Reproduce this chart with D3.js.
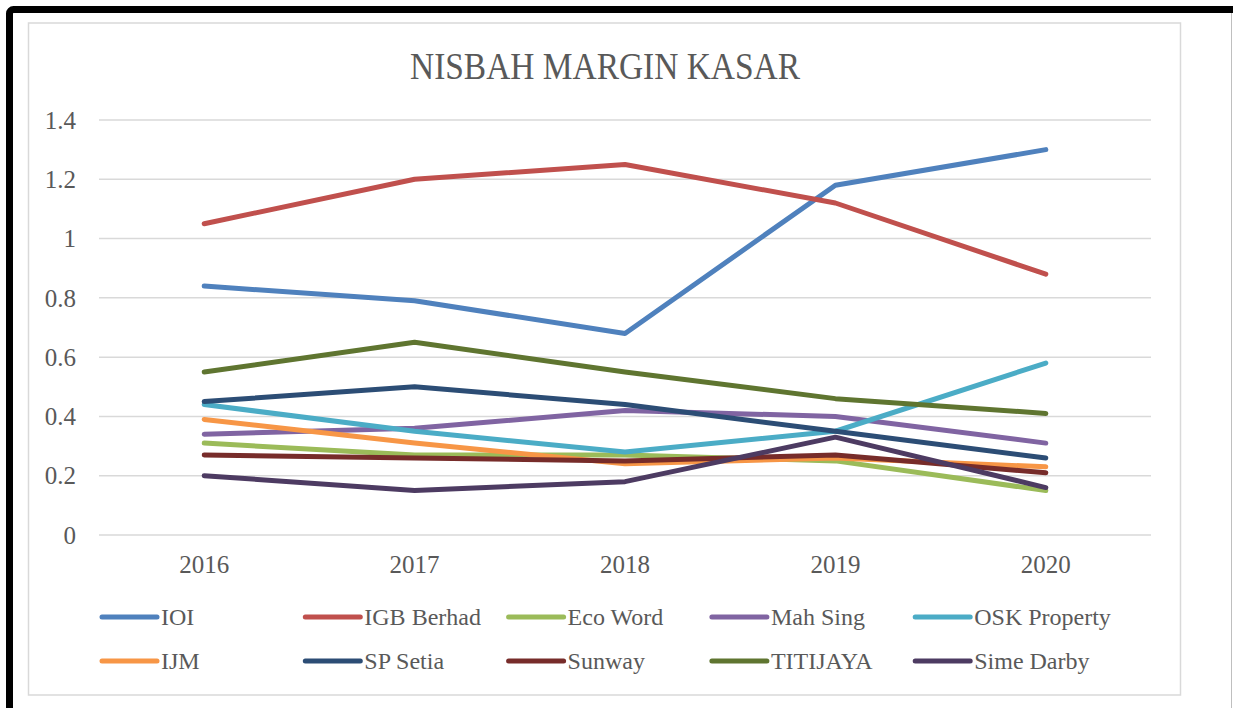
<!DOCTYPE html>
<html>
<head>
<meta charset="utf-8">
<script src="https://cdnjs.cloudflare.com/ajax/libs/d3/7.8.5/d3.min.js"></script>
<style>
  body { margin: 0; background: #fff; }
  svg { display: block; }
</style>
</head>
<body>
<div id="chart"></div>
<script>
// Chart values
var years = ["2016", "2017", "2018", "2019", "2020"];
var yTicks = [0, 0.2, 0.4, 0.6, 0.8, 1, 1.2, 1.4];
var names = ["IOI", "IGB Berhad", "Eco Word", "Mah Sing", "OSK Property",
             "IJM", "SP Setia", "Sunway", "TITIJAYA", "Sime Darby"];
var colors = ["#4F81BD", "#C0504D", "#9BBB59", "#8064A2", "#4BACC6",
              "#F79646", "#2C4D75", "#772C2A", "#5F7530", "#4D3B62"];

var ioi       = [0.84, 0.79, 0.68, 1.18, 1.30];
var igb       = [1.05, 1.20, 1.25, 1.12, 0.88];
var ecoWord   = [0.31, 0.27, 0.27, 0.25, 0.15];
var mahSing   = [0.34, 0.36, 0.42, 0.40, 0.31];
var oskProp   = [0.44, 0.35, 0.28, 0.35, 0.58];
var ijm       = [0.39, 0.31, 0.24, 0.26, 0.23];
var spSetia   = [0.45, 0.50, 0.44, 0.35, 0.26];
var sunway    = [0.27, 0.26, 0.25, 0.27, 0.21];
var titijaya  = [0.55, 0.65, 0.55, 0.46, 0.41];
var simeDarby = [0.20, 0.15, 0.18, 0.33, 0.16];

var seriesValues = [ioi, igb, ecoWord, mahSing, oskProp, ijm, spSetia, sunway, titijaya, simeDarby];

var width = 1233;
var height = 708;
var font = "'Liberation Serif', 'DejaVu Serif', serif";
var textColor = "#595959";
var gridColor = "#D9D9D9";

var svg = d3.select("#chart").append("svg")
    .attr("width", width)
    .attr("height", height);

// Outer black frame (top and left visible), thin grey right edge
svg.append("rect")
    .attr("x", 9.5).attr("y", 9.5)
    .attr("width", 1300).attr("height", 800)
    .attr("rx", 4)
    .attr("fill", "none")
    .attr("stroke", "#000")
    .attr("stroke-width", 7);

svg.append("line")
    .attr("x1", 1231.5).attr("x2", 1231.5)
    .attr("y1", 13).attr("y2", height)
    .attr("stroke", "#BFBFBF")
    .attr("stroke-width", 1);

// Chart area box
svg.append("rect")
    .attr("x", 28.5).attr("y", 23)
    .attr("width", 1152).attr("height", 672)
    .attr("fill", "#fff")
    .attr("stroke", gridColor)
    .attr("stroke-width", 1.5);

// Title (condensed to the reference width)
svg.append("text")
    .attr("x", 410).attr("y", 79)
    .attr("textLength", 390)
    .attr("lengthAdjust", "spacingAndGlyphs")
    .style("font-family", font)
    .style("font-size", "38px")
    .attr("fill", textColor)
    .text("NISBAH MARGIN KASAR");

// Scales
var x = d3.scaleBand().domain(years).range([99, 1151]);
var y = d3.scaleLinear().domain([0, 1.4]).range([535, 120]);

// Gridlines
svg.append("g")
    .selectAll("line")
    .data(yTicks)
    .enter().append("line")
      .attr("x1", 99).attr("x2", 1151)
      .attr("y1", function(d) { return y(d); })
      .attr("y2", function(d) { return y(d); })
      .attr("stroke", gridColor)
      .attr("stroke-width", 1.5);

// Y axis labels
var yAxis = svg.append("g")
    .attr("transform", "translate(76,0)")
    .call(d3.axisLeft(y).tickValues(yTicks).tickSize(0).tickPadding(0)
      .tickFormat(function(d) { return d3.format("")(+d.toFixed(1)); }));
yAxis.select(".domain").remove();
yAxis.selectAll("text")
    .attr("dy", "0.33em")
    .style("font-family", font)
    .style("font-size", "25px")
    .attr("fill", textColor);

// X axis labels
var xAxis = svg.append("g")
    .attr("transform", "translate(0,555)")
    .call(d3.axisBottom(x).tickSize(0).tickPadding(0));
xAxis.select(".domain").remove();
xAxis.selectAll("text")
    .attr("dy", "0.71em")
    .attr("y", 0)
    .style("font-family", font)
    .style("font-size", "25px")
    .attr("fill", textColor);

// Lines
var line = d3.line()
    .x(function(d, i) { return x(years[i]) + x.bandwidth() / 2; })
    .y(function(d) { return y(d); });

svg.append("g")
    .selectAll("path")
    .data(seriesValues)
    .enter().append("path")
      .attr("d", line)
      .attr("fill", "none")
      .attr("stroke", function(d, i) { return colors[i]; })
      .attr("stroke-width", 5)
      .attr("stroke-linecap", "round")
      .attr("stroke-linejoin", "round");

// Legend: 5 columns x 2 rows
var legend = svg.append("g")
    .selectAll("g")
    .data(names)
    .enter().append("g")
      .attr("transform", function(d, i) {
        return "translate(" + (102 + (i % 5) * 203.3) + "," + (617 + Math.floor(i / 5) * 44) + ")";
      });

legend.append("line")
    .attr("x1", 0).attr("x2", 55)
    .attr("y1", 0).attr("y2", 0)
    .attr("stroke", function(d, i) { return colors[i]; })
    .attr("stroke-width", 5)
    .attr("stroke-linecap", "round");

legend.append("text")
    .attr("x", 59)
    .attr("y", 0)
    .attr("dy", "0.35em")
    .style("font-family", font)
    .style("font-size", "24px")
    .attr("fill", textColor)
    .text(function(d) { return d; });
</script>
</body>
</html>
